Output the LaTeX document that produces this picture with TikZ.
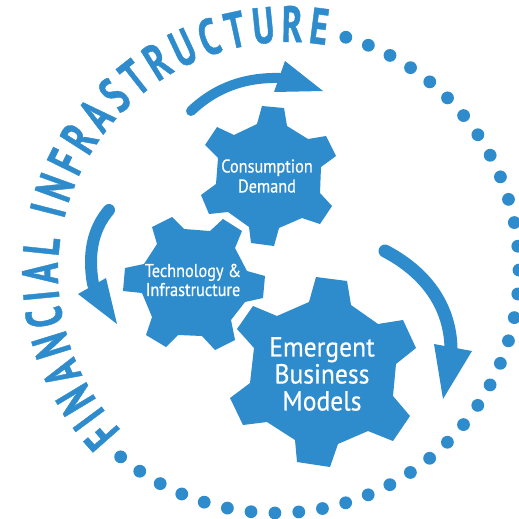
\documentclass[tikz,border=0pt]{standalone}
\usepackage{fontspec}
\setmainfont{PT Sans}
\newfontfamily\ringfont[FakeStretch=0.68, FakeBold=0.8]{PT Sans Bold}
\newfontfamily\gearfont[FakeStretch=0.88, FakeBold=0.5]{PT Sans}
\newfontfamily\biggearfont[FakeStretch=0.93, FakeBold=0.5]{PT Sans}
\usetikzlibrary{decorations.text}
\definecolor{gearblue}{HTML}{2E8BCC}
\tikzset{
    gearbody/.style = {fill = gearblue},
    gearlabel/.style = {text = white, align = center, inner sep = 0},
    shaft/.style = {draw = gearblue, line cap = round},
    arrowhead/.style = {fill = gearblue},
    ringdot/.style = {fill = gearblue}
}

\begin{document}
\begin{tikzpicture}[x = 1pt, y = -1pt]
        \useasboundingbox (0, 0) rectangle (519, 519);
        \coordinate (dothub) at (276, 270);
        \coordinate (texthub) at (288, 272);

        % dotted part of the ring
        \foreach \i in {0,...,36}
            \fill [ringdot] (dothub) ++ ({73.3 - 5.64*\i}:243pt) circle [radius = 6.4pt];

        % lettered part of the ring
        \path [decorate, decoration = {text along path, text align = {fit to path},
            text = {|\color{gearblue}\fontsize{51}{51}\ringfont|FINANCIAL INFRASTRUCTURE}}]
            (texthub) ++ (223.5:230pt) arc [start angle = 223.5, end angle = 80.5, radius = 230pt];

        % gears
        \fill [gearbody]
            (262, 106) -- (284, 108) -- (287, 126) -- (308, 139) -- (326, 136) -- (336, 156)
            -- (321, 167) -- (320, 193) -- (332, 206) -- (320, 224) -- (302, 218) -- (279, 228)
            -- (274, 246) -- (251, 243) -- (249, 227) -- (228, 212) -- (209, 214) -- (201, 195)
            -- (216, 184) -- (218, 158) -- (205, 145) -- (217, 127) -- (234, 135) -- (257, 124) -- cycle;
        \fill [gearbody]
            (152, 227) -- (172, 217) -- (184, 229) -- (210, 231) -- (223, 219) -- (242, 231)
            -- (235, 248) -- (247, 271) -- (265, 276) -- (263, 298) -- (245, 302) -- (231, 320)
            -- (235, 340) -- (215, 350) -- (202, 336) -- (178, 335) -- (166, 347) -- (146, 335)
            -- (152, 317) -- (142, 293) -- (123, 291) -- (125, 268) -- (144, 264) -- (157, 244) -- cycle;
        \fill [gearbody]
            (316, 277) -- (347, 281) -- (351, 305) -- (378, 324) -- (403, 320) -- (416, 348)
            -- (396, 364) -- (393, 396) -- (410, 416) -- (393, 441) -- (368, 431) -- (338, 444)
            -- (330, 467) -- (297, 462) -- (295, 440) -- (267, 422) -- (243, 425) -- (230, 398)
            -- (250, 383) -- (254, 348) -- (237, 329) -- (253, 306) -- (277, 316) -- (309, 302) -- cycle;

        \node [gearlabel, font = \gearfont\fontsize{18.5}{20}\selectfont] (consumption) at (267, 176) {Consumption\\Demand};
        \node [gearlabel, font = \gearfont\fontsize{18.5}{19}\selectfont] (technology) at (193, 280) {Technology \&\\Infrastructure};
        \node [gearlabel, font = \biggearfont\fontsize{27.5}{27}\selectfont] (emergent) at (322, 374) {Emergent\\Business\\Models};

        % arrows between the gears
        \draw [shaft, line width = 10pt] (191, 111) .. controls (212, 91) and (240, 77) .. (280, 78);
        \fill [arrowhead] (285, 61) -- (323, 91) -- (274, 92) -- cycle;

        \draw [shaft, line width = 12pt] (109, 210) .. controls (92, 230) and (88, 255) .. (93, 284);
        \fill [arrowhead] (78, 294) -- (106, 278) -- (117, 324) -- cycle;

        \draw [shaft, line width = 13pt] (385, 251) .. controls (425, 272) and (450, 305) .. (451, 348);
        \fill [arrowhead] (434, 344) -- (472, 351) -- (443, 399) -- cycle;
    \end{tikzpicture}
\end{document}
